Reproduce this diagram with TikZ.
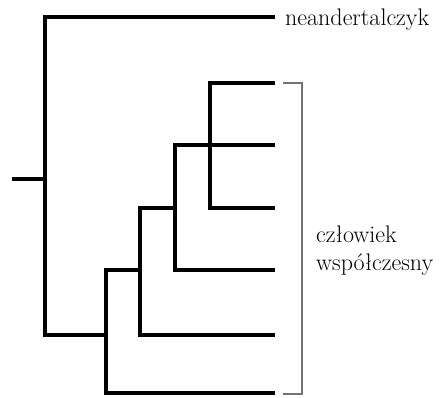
\documentclass[tikz,border=0pt]{standalone}
\usepackage{fontspec}
\usepackage{tikz}

\begin{document}
\begin{tikzpicture}
        [x=1pt,y=-1pt,
         branch/.style={line width=3.5pt},
         bracket/.style={line width=1.5pt,draw=black!55},
         every node/.style={inner sep=0,font=\fontsize{24}{28}\selectfont}]
        \useasboundingbox (0,0) rectangle (448,398);

        % leaves
        \coordinate (t0) at (275,17);
        \coordinate (t1) at (275,83);
        \coordinate (t2) at (275,145);
        \coordinate (t3) at (275,208);
        \coordinate (t4) at (275,270);
        \coordinate (t5) at (275,335);
        \coordinate (t6) at (275,393);

        % inner nodes
        \coordinate (r) at (12,179);
        \coordinate (a) at (45,179);
        \coordinate (b) at (106,335);
        \coordinate (c) at (140,270);
        \coordinate (d) at (175,208);
        \coordinate (e) at (210,145);

        \draw[branch] (r) -- (a);
        \draw[branch] (t0) -| (a) |- (b);
        \draw[branch] (c) -| (b) |- (t6);
        \draw[branch] (d) -| (c) |- (t5);
        \draw[branch] (e) -| (d) |- (t4);
        \draw[branch] (t1) -| (e) |- (t3);
        \draw[branch] (e) -- (t2);

        % bracket
        \coordinate (k1) at (283,83);
        \coordinate (k2) at (283,394);
        \draw[bracket] (k1) -- ++(19,0) |- (k2);

        \node[anchor=base west] (neander) at (285,26) {neandertalczyk};
        \node[anchor=west,align=left] (human) at (316,251) {człowiek\\współczesny};
      \end{tikzpicture}
\end{document}
